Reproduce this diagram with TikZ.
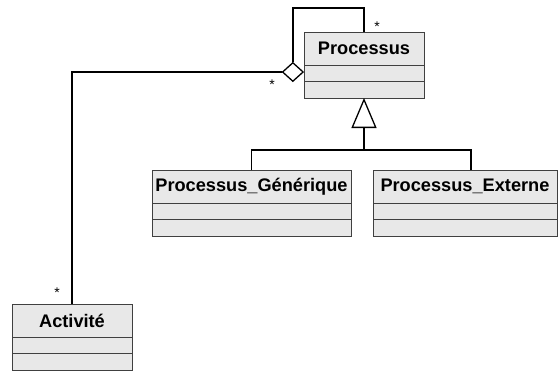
\documentclass[tikz,border=0pt]{standalone}
\usepackage{fontspec}
\setmainfont{Liberation Sans}
\usetikzlibrary{shapes.geometric,arrows.meta,positioning}

% class box: name, x, y (centre of the name part), width, title
\newcommand{\umlclass}[5]{%
  \node [head, minimum width=#4] (#1) at (#2,#3) {#5};
  \node [comp, minimum width=#4, below=0pt of #1] (#1-a) {};
  \node [comp, minimum width=#4, below=0pt of #1-a] (#1-o) {};
}

\begin{document}
\begin{tikzpicture}[x=1pt,y=-1pt,
    head/.style={draw=black!75, fill=gray!18, line width=0.8pt, minimum height=33pt,
      inner sep=0pt, outer sep=0pt, font=\bfseries\fontsize{18.2}{20}\selectfont},
    comp/.style={draw=black!75, fill=gray!18, line width=0.8pt, minimum height=16.5pt,
      inner sep=0pt, outer sep=0pt},
    assoc/.style={black, line width=1.8pt},
    mult/.style={inner sep=0pt, font=\fontsize{14}{14}\selectfont}]
  \useasboundingbox (0,0) rectangle (560,372);

  \umlclass{proc}{364}{48.5}{120pt}{Processus}
  \umlclass{gen}{251.5}{186.5}{199pt}{Processus\_Générique}
  \umlclass{ext}{465}{186.5}{184pt}{Processus\_Externe}
  \umlclass{act}{72}{320.5}{120pt}{Activité}

  % aggregation
  \node [diamond, draw, fill=white, line width=1.3pt, minimum width=21pt,
    minimum height=19pt, inner sep=0pt, anchor=east] (agg) at ([yshift=-23.5pt]proc.west) {};
  \draw [assoc] (agg.west) -| (act.north);
  \draw [assoc] (agg.north) |- ([yshift=24pt]proc.north) -- (proc.north);
  \node [mult] (mloop) at (377,27) {*};
  \node [mult] (magg) at (272,85) {*};
  \node [mult] (mact) at (57,293) {*};

  % generalisation
  \coordinate (fork) at (364,150);
  \draw [assoc] (gen.north) |- (fork) -| ([xshift=6pt]ext.north);
  \draw [line width=2.6pt, -{Triangle[open, width=25pt, length=30pt, line width=1.3pt]}]
    (fork) -- (proc-o.south);
\end{tikzpicture}
\end{document}
